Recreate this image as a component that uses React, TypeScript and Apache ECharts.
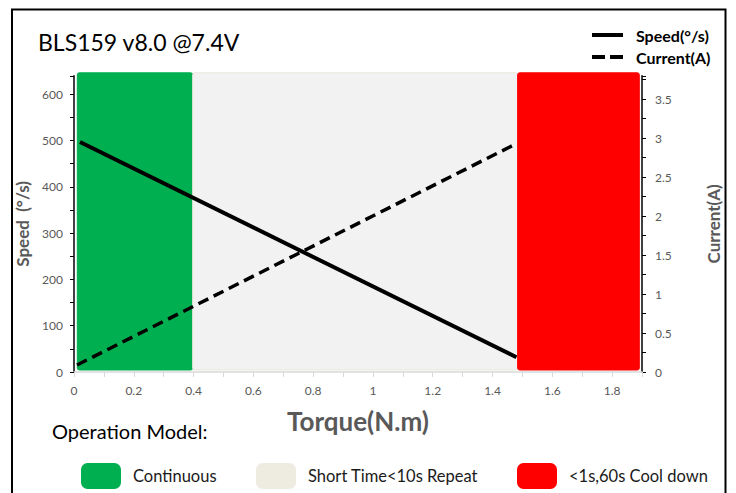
import React, { useEffect, useRef } from "react";
import * as echarts from "echarts";

// ---- data ----
const chartTitle = "BLS159 v8.0 @7.4V";
const speedTorque = [0.02, 1.48];
const speedValues = [497, 32];
const currentTorque = [0.01, 1.48];
const currentValues = [0.09, 2.93];

const bandNames = ["Continuous", "Short Time<10s Repeat", "<1s,60s Cool down"];
const bandFrom = [0.011, 0.397, 1.484];
const bandTo = [0.397, 1.484, 1.891];
const bandFill = ["#00b050", "#f2f2f2", "#ff0000"];
const bandSwatch = ["#00b050", "#eeece1", "#ff0000"];
const bandLegendLeft = [81, 256, 517];

const xMin = 0;
const xMax = 1.9;
const xInterval = 0.2;
const speedMax = 640;
const speedInterval = 100;
const currentMax = 3.8;
const currentInterval = 0.5;

const FONT = "Lato";
const GREY = "#595959";

const SOLID_ICON = "path://M0,0H31V4H0Z";
const DASH_ICON = "path://M0,0H13V4H0Z M18,0H31V4H18Z";

export default function App() {
  const ref = useRef<HTMLDivElement>(null);

  useEffect(() => {
    if (!ref.current) return;
    const chart = echarts.init(ref.current, undefined, { renderer: "svg" });

    const bandSeries = bandNames.map((name, i) => ({
      type: "custom",
      name,
      xAxisIndex: 0,
      yAxisIndex: 0,
      z: 1,
      silent: true,
      itemStyle: { color: bandSwatch[i] },
      data: [[bandFrom[i], bandTo[i]]],
      encode: { x: [0, 1] },
      renderItem: (params: any, api: any) => {
        const p0 = api.coord([api.value(0), speedMax]);
        const p1 = api.coord([api.value(1), 0]);
        return {
          type: "rect",
          shape: {
            x: p0[0],
            y: p0[1] - 3,
            width: p1[0] - p0[0],
            height: p1[1] - p0[1] + 1,
            r: 2,
          },
          style: {
            fill: bandFill[i],
            stroke: i === 1 ? "#e8e6da" : bandFill[i],
            lineWidth: 1,
          },
        };
      },
    }));

    const option: any = {
      animation: false,
      backgroundColor: "#ffffff",
      title: {
        text: chartTitle,
        left: 38,
        top: 30,
        padding: 0,
        textStyle: {
          fontFamily: FONT,
          fontSize: 23,
          fontWeight: "normal",
          color: "#000",
        },
      },
      grid: { left: 74, right: 94, top: 75.8, bottom: 121, containLabel: false },
      legend: [
        {
          data: [
            { name: "Speed(°/s)", icon: SOLID_ICON },
            { name: "Current(A)", icon: DASH_ICON },
          ],
          orient: "vertical",
          left: 592,
          top: 27,
          padding: 0,
          itemWidth: 31,
          itemHeight: 4,
          itemGap: 6,
          selectedMode: false,
          textStyle: {
            fontFamily: FONT,
            fontSize: 16,
            fontWeight: "bold",
            color: "#000",
            padding: [0, 0, 0, 8],
          },
        },
        ...bandNames.map((name, i) => ({
          data: [{ name, itemStyle: { color: bandSwatch[i] } }],
          left: bandLegendLeft[i],
          top: 463,
          padding: 0,
          itemWidth: 40,
          itemHeight: 26,
          selectedMode: false,
          textStyle: {
            fontFamily: FONT,
            fontSize: 16.5,
            color: "#1a1a1a",
            padding: [0, 0, 0, 7],
          },
        })),
      ],
      xAxis: {
        type: "value",
        min: xMin,
        max: xMax,
        interval: xInterval,
        name: "Torque(N.m)",
        nameLocation: "middle",
        nameGap: 36,
        nameTextStyle: { fontFamily: FONT, fontSize: 26, fontWeight: "bold", color: GREY },
        axisLine: { show: true, lineStyle: { color: "#d9d9d9", width: 1.5 } },
        axisTick: { show: true, length: 5, lineStyle: { color: "#d9d9d9" } },
        minorTick: { show: true, splitNumber: 2, length: 5, lineStyle: { color: "#d9d9d9" } },
        splitLine: { show: false },
        axisLabel: {
          showMaxLabel: false,
          margin: 12,
          fontFamily: FONT,
          fontSize: 12,
          color: GREY,
        },
      },
      yAxis: [
        {
          type: "value",
          position: "left",
          min: 0,
          max: speedMax,
          interval: speedInterval,
          name: "Speed  (°/s)",
          nameLocation: "middle",
          nameGap: 40.5,
          nameTextStyle: { fontFamily: FONT, fontSize: 17, fontWeight: "bold", color: GREY },
          axisLine: { show: true, lineStyle: { color: "#000", width: 1.5 } },
          axisTick: { show: true, length: 4, lineStyle: { color: "#000" } },
          minorTick: { show: true, splitNumber: 2, length: 4, lineStyle: { color: "#000" } },
          splitLine: { show: false },
          axisLabel: {
            showMaxLabel: false,
            margin: 11,
            fontFamily: FONT,
            fontSize: 12,
            color: GREY,
          },
        },
        {
          type: "value",
          position: "right",
          min: 0,
          max: currentMax,
          interval: currentInterval,
          name: "Current(A)",
          nameLocation: "middle",
          nameGap: 62.5,
          nameTextStyle: { fontFamily: FONT, fontSize: 17, fontWeight: "bold", color: GREY },
          axisLine: { show: true, lineStyle: { color: "#000", width: 1.5 } },
          axisTick: { show: true, length: 4, lineStyle: { color: "#000" } },
          minorTick: { show: true, splitNumber: 2, length: 4, lineStyle: { color: "#000" } },
          splitLine: { show: false },
          axisLabel: {
            showMaxLabel: false,
            margin: 13,
            fontFamily: FONT,
            fontSize: 12,
            color: GREY,
          },
        },
      ],
      graphic: [
        {
          type: "rect",
          silent: true,
          z: 100,
          shape: { x: 12, y: 9.5, width: 713.5, height: 500 },
          style: { fill: "none", stroke: "#000", lineWidth: 2 },
        },
        {
          type: "text",
          left: 52,
          top: 421,
          style: {
            text: "Operation Model:",
            fontFamily: FONT,
            fontSize: 20,
            fill: "#000",
          },
        },
      ],
      series: [
        ...bandSeries,
        {
          type: "line",
          name: "Speed(°/s)",
          yAxisIndex: 0,
          z: 5,
          symbol: "none",
          color: "#000",
          lineStyle: { color: "#000", width: 4 },
          data: speedTorque.map((t, i) => [t, speedValues[i]]),
        },
        {
          type: "line",
          name: "Current(A)",
          yAxisIndex: 1,
          z: 5,
          symbol: "none",
          color: "#000",
          lineStyle: { color: "#000", width: 3.5, type: [11, 6] },
          data: currentTorque.map((t, i) => [t, currentValues[i]]),
        },
      ],
    };

    chart.setOption(option);
    return () => chart.dispose();
  }, []);

  return (
    <div
      ref={ref}
      style={{ position: "absolute", left: 0, top: 0, width: 736, height: 493 }}
    />
  );
}
